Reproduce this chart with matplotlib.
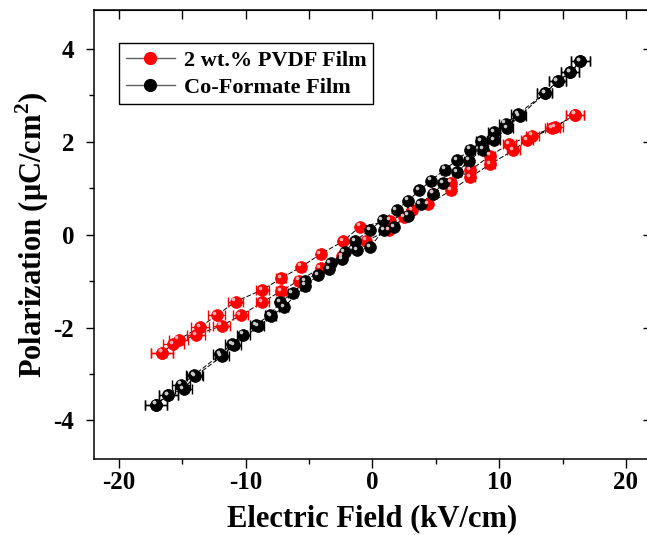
import matplotlib
matplotlib.use("Agg")
import matplotlib.pyplot as plt
import matplotlib.transforms as mtransforms
from matplotlib.lines import Line2D

plt.rcParams['font.family'] = ['Liberation Serif', 'DejaVu Serif']
plt.rcParams['font.weight'] = 'bold'
plt.rcParams['axes.unicode_minus'] = False
plt.rcParams['mathtext.fontset'] = 'custom'
plt.rcParams['mathtext.rm'] = 'Liberation Serif:bold'
plt.rcParams['mathtext.bf'] = 'Liberation Serif:bold'

# 2 wt.% PVDF film, descending then ascending branch
pvdf_down_x = [16.0, 14.4, 12.6, 10.8, 9.3, 7.7, 6.2, 4.8, 3.1, 1.4, -1.0,
               -2.3, -4.1, -5.6, -7.2, -8.7, -10.8, -12.3, -13.6, -15.3, -16.6]
pvdf_down_y = [2.58, 2.32, 2.13, 1.95, 1.70, 1.38, 1.12, 0.88, 0.52, 0.30, 0.17,
               -0.14, -0.42, -0.69, -0.94, -1.19, -1.44, -1.74, -1.99, -2.26, -2.54]
pvdf_down_err = [0.7, 0.6, 0.5, 0.5, 0.4, 0.35, 0.3, 0.25, 0.2, 0.1, 0.1,
                 0.15, 0.25, 0.3, 0.4, 0.5, 0.6, 0.65, 0.7, 0.75, 0.85]
pvdf_up_x = [-16.6, -15.7, -13.9, -11.9, -10.4, -8.7, -7.2, -5.8, -4.1, -2.4, -0.5,
             1.3, 2.5, 4.4, 6.2, 7.7, 9.3, 11.1, 12.2, 14.2, 16.0]
pvdf_up_y = [-2.54, -2.35, -2.16, -1.96, -1.74, -1.46, -1.21, -0.99, -0.72, -0.47, -0.13,
             0.09, 0.37, 0.66, 0.95, 1.23, 1.52, 1.81, 2.04, 2.29, 2.58]
pvdf_up_err = [0.85, 0.8, 0.7, 0.65, 0.6, 0.5, 0.4, 0.3, 0.25, 0.15, 0.1,
               0.1, 0.15, 0.25, 0.3, 0.35, 0.4, 0.5, 0.5, 0.6, 0.7]

# Co-Formate film
cof_down_x = [16.4, 15.6, 14.6, 13.6, 11.5, 10.5, 9.6, 8.6, 7.7, 6.7,
              5.7, 4.6, 3.7, 2.8, 1.9, 0.8, -0.2, -1.4, -2.2, -3.3,
              -5.3, -6.3, -7.3, -8.1, -9.2, -10.2, -11.1, -12.0, -14.1, -15.1,
              -16.1, -17.1]
cof_down_y = [3.73, 3.49, 3.30, 3.04, 2.60, 2.39, 2.21, 2.02, 1.83, 1.61,
              1.40, 1.16, 0.95, 0.73, 0.53, 0.32, 0.10, -0.14, -0.38, -0.61,
              -1.00, -1.26, -1.46, -1.73, -1.94, -2.15, -2.35, -2.58, -3.03, -3.23,
              -3.45, -3.66]
cof_down_err = [0.75, 0.7, 0.65, 0.6, 0.55, 0.5, 0.45, 0.4, 0.35, 0.3,
                0.3, 0.25, 0.2, 0.15, 0.1, 0.1, 0.1, 0.1, 0.15, 0.2,
                0.3, 0.35, 0.35, 0.4, 0.45, 0.5, 0.5, 0.55, 0.65, 0.7,
                0.75, 0.85]
cof_up_x = [-17.1, -16.1, -14.9, -14.0, -11.9, -10.9, -9.0, -8.0, -7.0, -5.3,
            -4.3, -3.4, -2.4, -1.2, -0.2, 0.9, 1.7, 2.8, 3.8, 4.8,
            5.6, 6.7, 7.6, 8.7, 9.6, 10.6, 11.6, 13.6, 14.6, 15.6, 16.4]
cof_up_y = [-3.66, -3.45, -3.32, -3.05, -2.62, -2.38, -1.97, -1.76, -1.56, -1.10,
            -0.88, -0.74, -0.52, -0.34, -0.27, 0.10, 0.16, 0.41, 0.66, 0.88,
            1.11, 1.34, 1.59, 1.83, 2.04, 2.29, 2.55, 3.04, 3.30, 3.49, 3.73]
cof_up_err = [0.85, 0.75, 0.7, 0.65, 0.55, 0.5, 0.45, 0.4, 0.35, 0.3,
              0.25, 0.2, 0.15, 0.1, 0.1, 0.1, 0.1, 0.15, 0.2, 0.25,
              0.3, 0.3, 0.35, 0.4, 0.45, 0.5, 0.55, 0.6, 0.65, 0.7, 0.75]

labels = ["2 wt.% PVDF Film", "Co-Formate Film"]
colors = ["#ff0000", "#000000"]
shine = ["#ffb0b0", "#c8c8c8"]

fig = plt.figure(figsize=(6.47, 5.35), dpi=100)
ax = fig.add_axes([0.1447, 0.142, 0.862, 0.839])

hl = mtransforms.offset_copy(ax.transData, fig=fig, x=-1.6, y=1.6, units='points')

series = [
    (pvdf_down_x + pvdf_up_x, pvdf_down_y + pvdf_up_y, pvdf_down_err + pvdf_up_err),
    (cof_down_x + cof_up_x, cof_down_y + cof_up_y, cof_down_err + cof_up_err),
]
for (x, y, e), c, s in zip(series, colors, shine):
    ax.plot(x, y, color='black', lw=0.7, ls=(0, (5, 2)), zorder=2)
    ax.errorbar(x, y, xerr=e, fmt='none', ecolor=c, elinewidth=1.0,
                capsize=3.5, capthick=1.0, zorder=3)
    ax.plot(x, y, 'o', ms=8.5, mfc=c, mec=c, mew=0.5, zorder=4)
    ax.plot(x, y, 'o', ms=2.6, mfc=s, mec='none', transform=hl, zorder=5)

ax.set_xlim(-22, 22)
ax.set_ylim(-4.83, 4.83)
ax.set_xticks([-20, -10, 0, 10, 20])
ax.set_xticks([-15, -5, 5, 15], minor=True)
ax.set_yticks([-4, -2, 0, 2, 4])
ax.set_yticks([-3, -1, 1, 3], minor=True)

for sp in ax.spines.values():
    sp.set_linewidth(1.1)

ax.tick_params(axis='both', which='major', labelsize=18, width=1.0, direction='out')
ax.tick_params(axis='both', which='minor', direction='out', width=1.0, length=3.6)
ax.tick_params(axis='x', which='major', length=6.8, pad=2)
ax.tick_params(axis='y', which='major', length=6.0, pad=8)
for lab in ax.get_xticklabels() + ax.get_yticklabels():
    lab.set_fontweight('bold')

# top: all ticks inward, same length; right: inward, minor shorter
top = ax.secondary_xaxis('top')
top.set_xticks([-20, -15, -10, -5, 0, 5, 10, 15, 20])
top.set_xticklabels([])
top.tick_params(direction='in', length=6.5, width=1.0)
right = ax.secondary_yaxis('right')
right.set_yticks([-4, -2, 0, 2, 4])
right.set_yticks([-3, -1, 1, 3], minor=True)
right.set_yticklabels([])
right.tick_params(which='major', direction='in', length=6.0, width=1.0)
right.tick_params(which='minor', direction='in', length=3.0, width=1.0)

ax.set_xlabel("Electric Field (kV/cm)", fontsize=22, fontweight='bold', labelpad=7)
ax.set_ylabel("Polarization (\u03bcC/cm$^{\\mathbf{2}}$)", fontsize=22,
              fontweight='bold', labelpad=2)

handles = [Line2D([], [], color='#606060', lw=1.0, marker='o', ms=8.5,
                  mfc=c, mec=c) for c in colors]
leg = ax.legend(handles, labels, loc='upper left', bbox_to_anchor=(0.0457, 0.926),
                borderaxespad=0, fancybox=False, edgecolor='black', framealpha=1,
                prop={'weight': 'bold', 'size': 16}, handlelength=2.2,
                handletextpad=0.4, labelspacing=0.3, borderpad=0.3)
leg.get_frame().set_linewidth(1.0)

fig.savefig("out.png", dpi=100)
